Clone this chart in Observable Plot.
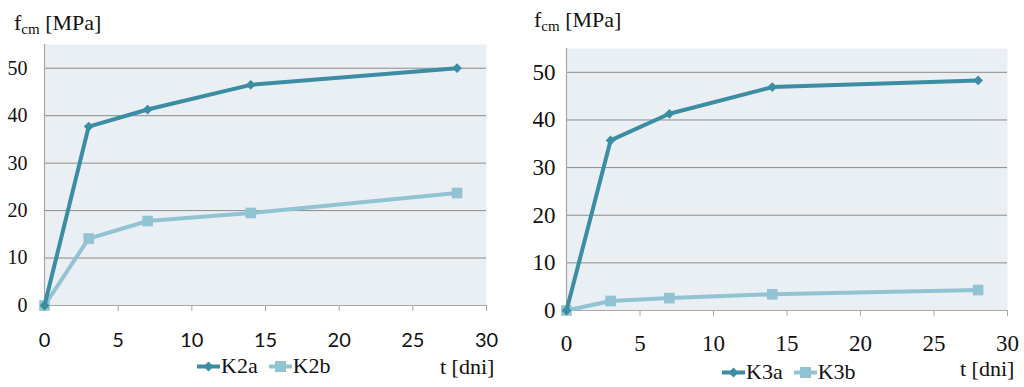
<!DOCTYPE html>
<html>
<head>
<meta charset="utf-8">
<script src="https://cdn.jsdelivr.net/npm/d3@7"></script>
<script src="https://cdn.jsdelivr.net/npm/@observablehq/plot@0.6"></script>
<style>
  html, body { margin: 0; padding: 0; background: #fff; }
  #wrap { position: relative; width: 1024px; height: 387px; overflow: hidden; font-family: "Liberation Serif", "Times New Roman", serif; color: #111; }
  .chart { position: absolute; top: 0; width: 512px; height: 387px; }
  .chart svg text { font-family: "Liberation Serif", "Times New Roman", serif; }
  .lbl { position: absolute; white-space: nowrap; line-height: 1; font-family: "Liberation Serif", "Times New Roman", serif; }
  .leg { position: absolute; white-space: nowrap; display: flex; align-items: center; line-height: 1; font-family: "Liberation Serif", "Times New Roman", serif; }
  .leg svg { display: block; }
</style>
</head>
<body>
<div id="wrap"></div>
<script>
// ---- data ----
const days = [0, 3, 7, 14, 28];
const k2a = [0, 37.7, 41.3, 46.5, 50.0];
const k2b = [0, 14.1, 17.8, 19.5, 23.7];
const k3a = [0, 35.7, 41.3, 46.9, 48.3];
const k3b = [0, 2.0, 2.6, 3.4, 4.3];
const xTicks = [0, 5, 10, 15, 20, 25, 30];
const yTicks = [0, 10, 20, 30, 40, 50];
const seriesNamesLeft = ["K2a", "K2b"];
const seriesNamesRight = ["K3a", "K3b"];

const dark = "#3a8da3";
const light = "#92c3d3";
const bg = "#e9eff3";
const grid = "#8c8c8c";
const axisCol = "#a8a8a8";

function rows(vals) { return days.map((d, i) => ({ t: d, v: vals[i] })); }

function makeChart(opts) {
  const A = rows(opts.a), B = rows(opts.b);
  const svg = Plot.plot({
    width: 512,
    height: 387,
    marginLeft: opts.ml,
    marginRight: opts.mr,
    marginTop: opts.mt,
    marginBottom: opts.mb,
    style: { fontFamily: "Liberation Serif", fontSize: opts.yFont + "px", color: "#111", background: "transparent", overflow: "visible" },
    x: { domain: [0, 30] },
    y: { domain: [0, 55] },
    marks: [
      Plot.frame({ fill: bg, stroke: null }),
      Plot.gridY(yTicks.filter(d => d > 0), { stroke: grid, strokeOpacity: 1, strokeWidth: 1 }),
      Plot.ruleY([0], { stroke: axisCol, strokeWidth: 1.2 }),
      Plot.ruleX([0], { stroke: axisCol, strokeWidth: 1.2 }),
      Plot.axisY({ ticks: yTicks, tickSize: 0, tickPadding: opts.yPad, label: null, fontSize: opts.yFont, fill: "#111" }),
      Plot.axisX({ ticks: xTicks, tickSize: 6, tickPadding: opts.xPad, label: null, stroke: axisCol, fontSize: opts.xFont, fill: "#111" }),
      Plot.line(B, { x: "t", y: "v", stroke: light, strokeWidth: 4 }),
      Plot.dot(B, { x: "t", y: "v", symbol: "square", r: 6, fill: light, stroke: null }),
      Plot.line(A, { x: "t", y: "v", stroke: dark, strokeWidth: 4 }),
      Plot.dot(A, { x: "t", y: "v", symbol: "diamond2", r: 4.4, fill: dark, stroke: null })
    ]
  });
  if (opts.xSans) {
    d3.select(svg).selectAll('g[aria-label="x-axis tick label"] text').style("font-family", "Lato, 'Open Sans', sans-serif");
  }
  return svg;
}

function legendItem(kind, color) {
  const s = kind === "diamond"
    ? `<polygon points="11.5,1.5 16.5,6.5 11.5,11.5 6.5,6.5" fill="${color}"/>`
    : `<rect x="6" y="1" width="11" height="11" fill="${color}"/>`;
  return `<svg width="23" height="13" viewBox="0 0 23 13"><line x1="0" y1="6.5" x2="23" y2="6.5" stroke="${color}" stroke-width="4"/>${s}</svg>`;
}

const wrap = document.getElementById("wrap");

function addChart(left, opts) {
  const div = document.createElement("div");
  div.className = "chart";
  div.style.left = left + "px";
  div.appendChild(makeChart(opts));
  const yl = document.createElement("div");
  yl.className = "lbl";
  yl.style.left = opts.ylX + "px";
  yl.style.top = opts.ylY + "px";
  yl.style.fontSize = "22px";
  yl.innerHTML = 'f<sub style="font-size:15px;vertical-align:-4px">cm</sub> [MPa]';
  div.appendChild(yl);
  const xl = document.createElement("div");
  xl.className = "lbl";
  xl.style.left = opts.xlX + "px";
  xl.style.top = opts.xlY + "px";
  xl.style.fontSize = "22px";
  xl.textContent = "t [dni]";
  div.appendChild(xl);
  const lg = document.createElement("div");
  lg.className = "leg";
  lg.style.left = opts.lgX + "px";
  lg.style.top = opts.lgY + "px";
  lg.style.fontSize = "22px";
  lg.innerHTML = legendItem("diamond", dark) + `<span style="margin-left:1px;margin-right:11px">${opts.names[0]}</span>` +
                 legendItem("square", light) + `<span style="margin-left:1px">${opts.names[1]}</span>`;
  div.appendChild(lg);
  wrap.appendChild(div);
}

addChart(0, {
  a: k2a, b: k2b, names: seriesNamesLeft,
  ml: 44, mr: 26, mt: 44, mb: 82,
  yPad: 17, yFont: 20, xPad: 21, xFont: 20, xSans: true,
  ylX: 14, ylY: 12, xlX: 440, xlY: 356, lgX: 197, lgY: 355
});
addChart(512, {
  a: k3a, b: k3b, names: seriesNamesRight,
  ml: 54, mr: 17, mt: 48, mb: 77,
  yPad: 11, yFont: 23, xPad: 18, xFont: 23, xSans: false,
  ylX: 22, ylY: 9, xlX: 448, xlY: 358, lgX: 210, lgY: 361
});
</script>
</body>
</html>
